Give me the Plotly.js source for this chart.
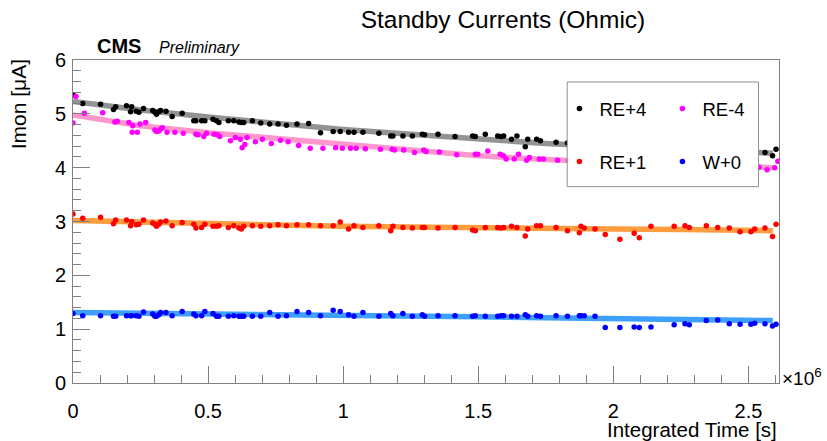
<!DOCTYPE html>
<html><head><meta charset="utf-8">
<script src="https://cdn.plot.ly/plotly-3.0.1.min.js"></script>
<style>html,body{margin:0;padding:0;background:#fff}#chart{width:827px;height:441px}</style>
</head><body><div id="chart"></div>
<script>
// Integrated time in units of 10^6 s (axis carries the x10^6 factor)
const time = [0.0,0.036,0.102,0.150,0.158,0.198,0.213,0.217,0.234,0.244,0.261,0.295,0.303,0.309,0.318,0.324,0.344,0.367,0.404,0.447,0.455,0.476,0.488,0.518,0.531,0.540,0.575,0.595,0.614,0.623,0.632,0.664,0.695,0.728,0.759,0.790,0.829,0.872,0.916,0.963,0.989,1.020,1.040,1.073,1.132,1.176,1.184,1.221,1.256,1.293,1.301,1.351,1.414,1.479,1.489,1.526,1.572,1.584,1.594,1.623,1.643,1.674,1.683,1.716,1.730,1.788,1.830,1.874,1.880,1.892,1.932,1.970,2.024,2.077,2.096,2.139,2.225,2.265,2.281,2.344,2.386,2.429,2.469,2.509,2.523,2.561,2.589,2.602];
const rePlus4 = [5.35,5.19,5.18,5.08,5.13,5.15,5.04,5.13,5.05,5.03,5.10,5.06,5.03,4.99,5.04,5.06,5.05,4.95,5.01,4.87,4.87,4.87,4.87,4.90,4.87,4.84,4.87,4.87,4.85,4.84,4.84,4.87,4.83,4.81,4.81,4.79,4.81,4.82,4.65,4.67,4.67,4.66,4.66,4.66,4.64,4.59,4.59,4.59,4.59,4.62,4.61,4.62,4.58,4.59,4.58,4.62,4.59,4.58,4.59,4.53,4.59,4.39,4.53,4.53,4.50,4.47,4.46,4.44,4.45,4.43,4.42,4.41,4.40,4.38,4.39,4.37,4.35,4.34,4.35,4.33,4.32,4.31,4.30,4.29,4.30,4.28,4.22,4.34];
const rePlus1 = [3.14,3.06,3.08,2.96,3.03,3.03,2.92,3.00,2.94,2.95,3.03,2.97,2.95,2.91,2.95,2.99,3.01,2.92,2.98,2.95,2.88,2.89,2.95,2.91,2.91,2.92,2.89,2.92,2.88,2.86,2.91,2.92,2.91,2.92,2.94,2.92,2.94,2.94,2.92,2.92,2.99,2.86,2.92,2.89,2.92,2.83,2.91,2.89,2.88,2.89,2.89,2.88,2.89,2.84,2.83,2.89,2.89,2.88,2.89,2.91,2.89,2.73,2.86,2.92,2.92,2.89,2.83,2.79,2.91,2.88,2.86,2.76,2.67,2.78,2.70,2.91,2.91,2.92,2.89,2.92,2.89,2.88,2.81,2.81,2.86,2.88,2.72,2.95];
const wZero = [1.29,1.25,1.25,1.24,1.24,1.25,1.25,1.25,1.25,1.24,1.32,1.28,1.24,1.24,1.27,1.31,1.31,1.25,1.33,1.28,1.25,1.25,1.33,1.29,1.24,1.24,1.24,1.25,1.24,1.24,1.24,1.24,1.24,1.31,1.24,1.25,1.33,1.31,1.25,1.35,1.33,1.27,1.24,1.31,1.24,1.29,1.25,1.29,1.24,1.27,1.24,1.25,1.25,1.24,1.25,1.24,1.24,1.25,1.25,1.24,1.24,1.27,1.24,1.25,1.24,1.25,1.24,1.25,1.25,1.25,1.24,1.03,1.03,1.04,1.03,1.04,1.08,1.10,1.08,1.16,1.17,1.10,1.09,1.09,1.11,1.10,1.06,1.09];
const timeMinus4 = [0.0,0.011,0.042,0.110,0.155,0.164,0.207,0.221,0.219,0.238,0.248,0.269,0.303,0.309,0.318,0.325,0.331,0.348,0.377,0.408,0.455,0.463,0.484,0.494,0.522,0.535,0.543,0.583,0.601,0.620,0.626,0.636,0.644,0.675,0.701,0.734,0.768,0.796,0.835,0.878,0.925,0.972,0.997,1.027,1.048,1.082,1.138,1.181,1.190,1.224,1.264,1.298,1.307,1.356,1.420,1.489,1.498,1.535,1.581,1.593,1.603,1.633,1.649,1.679,1.689,1.726,1.741,1.793,1.835,1.879,1.885,1.897,1.937,1.975,2.029,2.082,2.101,2.144,2.230,2.270,2.286,2.349,2.391,2.434,2.474,2.514,2.539,2.569,2.597,2.609];
const reMinus4 = [4.83,5.32,5.01,5.02,4.85,4.86,4.84,4.78,4.66,4.66,4.81,4.84,4.70,4.67,4.68,4.72,4.74,4.66,4.66,4.64,4.62,4.61,4.58,4.64,4.62,4.61,4.58,4.50,4.56,4.53,4.37,4.43,4.56,4.48,4.53,4.45,4.51,4.48,4.41,4.36,4.36,4.37,4.36,4.36,4.36,4.35,4.34,4.34,4.33,4.33,4.28,4.33,4.30,4.29,4.24,4.25,4.25,4.31,4.25,4.22,4.16,4.16,4.25,4.14,4.19,4.16,4.16,4.14,4.13,4.12,4.13,4.11,4.12,4.10,4.09,4.08,4.09,4.07,4.06,4.05,4.06,4.04,4.05,4.03,4.04,4.02,4.01,3.96,4.00,4.12];
// Fit curves
const fitTime = [0,0.25,0.5,0.75,1.0,1.25,1.5,1.75,2.0,2.25,2.5,2.59];
const fitRePlus4 = [5.23,5.07,4.94,4.82,4.71,4.62,4.53,4.45,4.39,4.33,4.29,4.27];
const fitReMinus4 = [4.98,4.78,4.65,4.54,4.43,4.31,4.22,4.15,4.09,4.05,4.02,4.00];
const fitRePlus1 = [3.02,2.99,2.96,2.94,2.91,2.90,2.88,2.87,2.86,2.85,2.83,2.83];
const fitWZero = [1.31,1.30,1.28,1.27,1.25,1.24,1.23,1.21,1.19,1.18,1.17,1.16];
const xTickVals = [0,0.5,1,1.5,2,2.5];
const xTickText = ['0','0.5','1','1.5','2','2.5'];

const F = 'Liberation Sans, Arial, Helvetica, sans-serif';
const fitLine = (y, c) => ({x: fitTime, y: y, mode: 'lines', type: 'scatter', showlegend: false,
  line: {color: c, width: 5.5}, hoverinfo: 'skip'});
const pts = (x, y, c, name, lg) => ({x: x, y: y, mode: 'markers', type: 'scatter', name: name, legend: lg,
  marker: {color: c, size: 5.5}});

const traces = [
  fitLine(fitRePlus4, 'rgba(128,128,128,0.85)'),
  fitLine(fitReMinus4, 'rgba(255,140,200,0.9)'),
  fitLine(fitRePlus1, 'rgba(255,145,40,0.9)'),
  fitLine(fitWZero, 'rgba(40,150,255,0.9)'),
  pts(time, rePlus4, '#000000', 'RE+4', 'legend'),
  pts(timeMinus4, reMinus4, '#ff00ff', 'RE-4', 'legend'),
  pts(time, rePlus1, '#ff0000', 'RE+1', 'legend2'),
  pts(time, wZero, '#0000ff', 'W+0', 'legend2')
];

const axisCommon = {
  showline: true, linecolor: '#808080', linewidth: 1, mirror: true,
  ticks: 'inside', ticklen: 17, tickcolor: '#808080', tickwidth: 1,
  showgrid: false, zeroline: false,
  tickfont: {family: F, size: 20, color: '#000'}
};
const legendCommon = {orientation: 'h', xanchor: 'left', yanchor: 'middle', bgcolor: 'rgba(0,0,0,0)',
  borderwidth: 0, font: {family: F, size: 18.5, color: '#000'}, entrywidth: 58, entrywidthmode: 'pixels'};

const layout = {
  width: 827, height: 441,
  margin: {l: 73, r: 48, t: 60, b: 58},
  paper_bgcolor: '#fff', plot_bgcolor: '#fff',
  title: {text: 'Standby Currents (Ohmic)', font: {family: F, size: 24.5, color: '#000'},
    x: 0.609, xref: 'paper', xanchor: 'center', y: 0.955, yref: 'container', yanchor: 'middle'},
  xaxis: Object.assign({}, axisCommon, {range: [0, 2.613], tickvals: xTickVals, ticktext: xTickText,
    ticklabelstandoff: 10,
    minor: {dtick: 0.1, tick0: 0, ticks: 'inside', ticklen: 8, tickcolor: '#808080', showgrid: false}}),
  yaxis: Object.assign({}, axisCommon, {range: [0, 6], dtick: 1, tick0: 0, ticklabelstandoff: 2,
    minor: {dtick: 0.2, tick0: 0, ticks: 'inside', ticklen: 8, tickcolor: '#808080', showgrid: false}}),
  legend: Object.assign({}, legendCommon, {x: 0.689, y: 0.848}),
  legend2: Object.assign({}, legendCommon, {x: 0.689, y: 0.684}),
  shapes: [{type: 'rect', xref: 'paper', yref: 'paper', x0: 0.700, x1: 0.971, y0: 0.608, y1: 0.932,
    fillcolor: '#fff', line: {color: '#909090', width: 1}, layer: 'above'}],
  annotations: [
    {text: '<b>CMS</b>', xref: 'paper', yref: 'paper', x: 0.031, y: 1.043, xanchor: 'left', yanchor: 'middle',
      showarrow: false, font: {family: F, size: 20, color: '#000'}},
    {text: '<i>Preliminary</i>', xref: 'paper', yref: 'paper', x: 0.119, y: 1.040, xanchor: 'left', yanchor: 'middle',
      showarrow: false, font: {family: F, size: 16, color: '#000'}},
    {text: 'Imon [μA]', xref: 'paper', yref: 'paper', x: -0.076, y: 0.864, xanchor: 'center', yanchor: 'middle',
      textangle: -90, showarrow: false, font: {family: F, size: 21, color: '#000'}},
    {text: 'Integrated Time [s]', xref: 'paper', yref: 'paper', x: 1.0, y: -0.1455, xanchor: 'right', yanchor: 'middle',
      showarrow: false, font: {family: F, size: 20.5, color: '#000'}},
    {text: '×10<sup>6</sup>', xref: 'paper', yref: 'paper', x: 1.0, y: 0.02, xanchor: 'left', yanchor: 'middle', xshift: 1,
      showarrow: false, font: {family: F, size: 19, color: '#000'}}
  ]
};

Plotly.newPlot('chart', traces, layout, {displayModeBar: false, staticPlot: true});
</script></body></html>
